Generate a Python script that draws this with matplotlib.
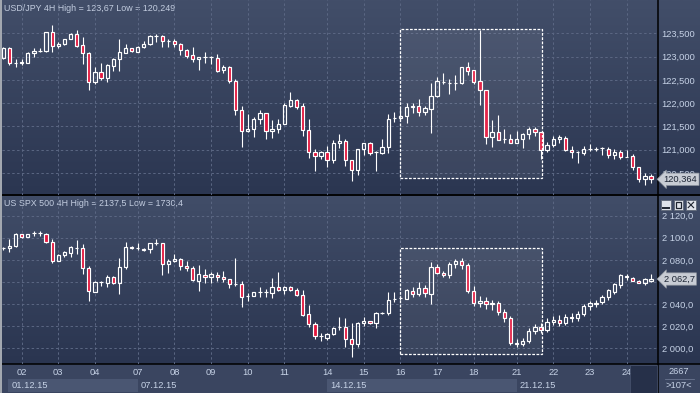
import numpy as np
import matplotlib
matplotlib.use("Agg")
import matplotlib.pyplot as plt
import matplotlib.transforms as mtransforms
from matplotlib.patches import Rectangle
from matplotlib.colors import to_rgb

plt.rcParams["font.family"] = ["Liberation Sans", "DejaVu Sans"]

# ── data: 4H candles, 01.12.15 – 24.12.15 ───────────────────────────────────
usd_open = [122.98, 123.18, 122.87, 122.87, 122.87, 123.07, 123.13, 123.13, 123.52, 123.23,
            123.27, 123.39, 123.48, 123.25, 123.07, 122.45, 122.67, 122.55, 122.80, 122.96,
            123.08, 123.18, 123.11, 123.20, 123.28, 123.44, 123.44, 123.34, 123.34, 123.28,
            123.14, 123.03, 122.94, 123.00, 123.00, 122.98, 122.71, 122.77, 122.48, 121.86,
            121.41, 121.45, 121.65, 121.78, 121.41, 121.45, 121.56, 121.95, 122.06, 121.93,
            121.43, 120.95, 120.86, 120.94, 120.78, 121.15, 121.19, 120.77, 120.57, 121.02,
            121.15, 120.94, 120.93, 121.06, 121.68, 121.68, 121.73, 121.91, 121.94, 121.80,
            121.88, 122.15, 122.46, 122.44, 122.44, 122.44, 122.77, 122.71, 122.47, 122.29,
            121.27, 121.37, 121.24, 121.24, 121.15, 121.23, 121.33, 121.45, 121.38, 121.00,
            121.11, 121.24, 121.26, 121.00, 120.95, 120.93, 121.02, 121.02, 121.03, 121.02,
            120.89, 120.95, 120.85, 120.86, 120.63, 120.37, 120.43]
usd_high = [123.20, 123.21, 122.96, 122.94, 123.09, 123.18, 123.19, 123.52, 123.67, 123.32,
            123.39, 123.50, 123.57, 123.43, 123.09, 122.78, 122.87, 122.85, 122.98, 123.38,
            123.28, 123.19, 123.23, 123.33, 123.46, 123.48, 123.46, 123.38, 123.39, 123.30,
            123.16, 123.20, 123.00, 123.09, 123.01, 123.05, 122.83, 122.79, 122.51, 121.93,
            121.76, 121.70, 121.86, 121.79, 121.63, 121.67, 122.00, 122.24, 122.08, 122.00,
            121.65, 121.02, 120.97, 121.09, 121.20, 121.34, 121.24, 120.77, 121.02, 121.15,
            121.17, 120.97, 121.22, 121.76, 121.80, 121.90, 122.01, 122.01, 122.10, 121.94,
            122.44, 122.57, 122.64, 122.52, 122.60, 122.77, 122.88, 122.71, 123.57, 122.29,
            121.63, 121.75, 121.45, 121.33, 121.40, 121.36, 121.49, 121.49, 121.38, 121.17,
            121.29, 121.31, 121.29, 121.07, 120.97, 121.08, 121.13, 121.05, 121.05, 121.05,
            121.02, 120.99, 120.99, 120.91, 120.63, 120.50, 120.48]
usd_low = [122.96, 122.82, 122.77, 122.82, 122.86, 123.00, 123.09, 123.11, 123.10, 123.19,
           123.25, 123.37, 123.21, 122.84, 122.28, 122.42, 122.49, 122.46, 122.70, 122.70,
           123.07, 123.09, 123.10, 123.18, 123.25, 123.32, 123.20, 123.21, 123.21, 123.04,
           122.98, 122.89, 122.71, 122.86, 122.84, 122.67, 122.64, 122.44, 121.74, 121.06,
           121.38, 121.27, 121.55, 121.23, 121.26, 121.36, 121.55, 121.92, 121.88, 121.29,
           120.83, 120.55, 120.79, 120.63, 120.71, 121.04, 120.65, 120.32, 120.46, 120.88,
           120.88, 120.55, 120.91, 120.93, 121.60, 121.63, 121.57, 121.79, 121.73, 121.74,
           121.36, 122.14, 122.41, 122.19, 122.28, 122.42, 122.60, 122.41, 121.96, 121.12,
           121.06, 121.20, 121.14, 121.15, 121.14, 121.04, 121.22, 121.29, 120.81, 120.95,
           121.06, 121.14, 120.97, 120.82, 120.71, 120.88, 120.97, 120.98, 120.88, 120.82,
           120.81, 120.81, 120.84, 120.57, 120.30, 120.25, 120.29]
usd_close = [123.18, 122.87, 122.87, 122.88, 123.07, 123.13, 123.13, 123.52, 123.23, 123.28,
             123.39, 123.49, 123.23, 123.07, 122.46, 122.67, 122.55, 122.82, 122.96, 123.09,
             123.18, 123.12, 123.20, 123.28, 123.44, 123.44, 123.34, 123.34, 123.28, 123.14,
             123.02, 122.94, 123.00, 123.00, 122.99, 122.70, 122.77, 122.48, 121.86, 121.41,
             121.45, 121.67, 121.78, 121.41, 121.45, 121.56, 121.96, 122.06, 121.92, 121.43,
             120.95, 120.86, 120.94, 120.78, 121.15, 121.19, 120.77, 120.57, 121.02, 121.15,
             120.93, 120.94, 121.06, 121.67, 121.69, 121.73, 121.91, 121.94, 121.80, 121.89,
             122.15, 122.47, 122.46, 122.44, 122.44, 122.77, 122.70, 122.46, 122.28, 121.27,
             121.37, 121.20, 121.24, 121.15, 121.24, 121.33, 121.45, 121.38, 121.00, 121.11,
             121.24, 121.27, 121.00, 120.95, 120.95, 121.02, 121.02, 121.02, 121.04, 120.89,
             120.95, 120.84, 120.85, 120.63, 120.37, 120.43, 120.364]

spx_open = [2090.5, 2091.0, 2092.8, 2103.3, 2100.9, 2103.9, 2103.9, 2103.3, 2095.8, 2079.2,
            2084.3, 2085.8, 2091.0, 2090.4, 2072.9, 2050.6, 2059.6, 2058.7, 2064.8, 2058.7,
            2073.8, 2091.3, 2090.4, 2089.8, 2089.8, 2094.9, 2094.9, 2076.2, 2078.9, 2080.4,
            2074.4, 2072.9, 2061.1, 2066.3, 2064.2, 2066.3, 2064.8, 2062.3, 2058.1, 2058.1,
            2047.6, 2047.6, 2051.2, 2050.6, 2049.7, 2055.1, 2052.7, 2055.1, 2052.7, 2048.2,
            2030.7, 2021.7, 2011.1, 2009.6, 2012.7, 2019.0, 2019.0, 2008.1, 2003.6, 2022.6,
            2024.7, 2022.6, 2032.2, 2031.6, 2044.6, 2045.2, 2044.6, 2052.1, 2049.1, 2054.2,
            2049.1, 2073.2, 2068.4, 2066.0, 2076.0, 2079.0, 2075.0, 2052.0, 2041.0, 2043.0,
            2040.0, 2041.0, 2033.0, 2027.0, 2005.0, 2004.0, 2007.0, 2016.0, 2019.0, 2017.0,
            2024.0, 2026.0, 2023.0, 2028.0, 2027.0, 2031.0, 2038.0, 2041.0, 2042.2, 2046.2,
            2051.2, 2057.3, 2065.7, 2063.9, 2061.2, 2059.4, 2061.0]
spx_high = [2092.0, 2098.5, 2104.5, 2103.3, 2103.3, 2106.3, 2106.0, 2104.5, 2098.5, 2085.2,
            2088.3, 2092.5, 2097.9, 2094.3, 2074.4, 2060.8, 2060.8, 2066.3, 2065.4, 2081.3,
            2096.4, 2092.5, 2095.5, 2090.4, 2095.5, 2098.5, 2095.5, 2080.4, 2084.9, 2081.3,
            2079.2, 2074.4, 2075.3, 2071.4, 2069.3, 2069.3, 2069.9, 2062.9, 2081.3, 2060.8,
            2049.7, 2051.2, 2055.1, 2053.3, 2063.2, 2069.3, 2056.3, 2056.3, 2054.2, 2052.7,
            2039.2, 2024.1, 2014.2, 2014.2, 2019.6, 2028.6, 2027.1, 2022.6, 2024.1, 2028.6,
            2025.0, 2033.1, 2033.1, 2050.6, 2050.9, 2047.0, 2053.3, 2055.1, 2060.2, 2057.2,
            2078.3, 2076.2, 2070.2, 2078.0, 2081.0, 2082.0, 2077.0, 2056.0, 2047.0, 2046.0,
            2044.0, 2043.0, 2036.0, 2029.0, 2008.0, 2009.0, 2018.0, 2022.0, 2023.0, 2027.0,
            2029.0, 2030.0, 2031.0, 2032.0, 2034.0, 2040.0, 2043.0, 2044.0, 2048.0, 2054.0,
            2059.0, 2067.0, 2067.0, 2064.5, 2062.0, 2064.0, 2067.0]
spx_low = [2089.0, 2086.7, 2091.3, 2099.4, 2100.3, 2101.5, 2101.5, 2094.9, 2076.8, 2079.2,
           2082.2, 2082.8, 2085.2, 2067.2, 2043.1, 2050.6, 2056.6, 2055.1, 2058.1, 2049.1,
           2071.7, 2089.8, 2088.9, 2087.9, 2085.8, 2093.1, 2066.3, 2067.8, 2078.3, 2070.8,
           2069.9, 2061.1, 2052.1, 2059.3, 2059.3, 2061.1, 2060.2, 2054.2, 2056.3, 2037.0,
           2043.1, 2047.6, 2046.7, 2046.1, 2045.2, 2052.1, 2048.8, 2052.1, 2047.6, 2029.2,
           2019.6, 2008.1, 2006.9, 2007.5, 2012.0, 2016.6, 2001.5, 1992.5, 2001.5, 2020.2,
           2021.9, 2018.7, 2030.7, 2030.1, 2042.2, 2043.7, 2044.6, 2046.7, 2047.3, 2046.1,
           2040.1, 2067.2, 2064.8, 2064.0, 2073.0, 2072.0, 2050.0, 2038.0, 2037.0, 2036.0,
           2035.0, 2030.0, 2024.0, 2003.0, 2001.0, 2002.0, 2005.0, 2013.0, 2014.0, 2015.0,
           2021.0, 2020.0, 2021.0, 2024.0, 2025.0, 2029.0, 2035.0, 2037.0, 2040.0, 2044.0,
           2049.0, 2055.0, 2062.2, 2060.5, 2059.0, 2057.5, 2060.0]
spx_close = [2091.0, 2092.8, 2103.3, 2100.9, 2103.0, 2103.9, 2103.9, 2095.8, 2079.2, 2084.3,
             2086.7, 2091.3, 2091.0, 2072.9, 2051.8, 2059.6, 2059.6, 2064.8, 2058.7, 2073.8,
             2091.9, 2090.4, 2090.4, 2089.2, 2094.9, 2094.9, 2076.2, 2078.9, 2080.7, 2074.4,
             2072.3, 2061.7, 2067.2, 2064.2, 2067.2, 2064.8, 2062.3, 2058.1, 2058.1, 2046.7,
             2047.6, 2051.2, 2051.2, 2050.6, 2055.1, 2052.7, 2055.1, 2052.7, 2048.2, 2030.1,
             2022.0, 2011.1, 2011.1, 2012.7, 2018.7, 2019.0, 2008.1, 2003.6, 2022.6, 2024.7,
             2022.6, 2031.6, 2032.2, 2043.7, 2044.6, 2045.2, 2052.7, 2049.1, 2054.2, 2049.7,
             2073.2, 2068.4, 2066.3, 2076.0, 2079.0, 2075.0, 2052.0, 2041.0, 2043.0, 2040.0,
             2041.0, 2033.0, 2027.0, 2005.0, 2004.0, 2007.0, 2016.0, 2019.0, 2017.0, 2024.0,
             2026.0, 2023.0, 2028.0, 2027.0, 2031.0, 2038.0, 2041.0, 2040.0, 2046.7, 2052.8,
             2057.9, 2066.3, 2064.3, 2060.9, 2059.4, 2062.4, 2062.7]

# candle index where each day starts, and the labels under it
day_pos = [3, 9, 15, 22, 28, 34, 40, 46, 53, 59, 65, 71, 77, 84, 90, 96, 102]
day_labels = ["02", "03", "04", "07", "08", "09", "10", "11", "14", "15",
              "16", "17", "18", "21", "22", "23", "24"]
week_pos = [0.8, 22, 53, 84]
week_labels = ["01.12.15", "07.12.15", "14.12.15", "21.12.15"]

usd_ticks = [120.5, 121.0, 121.5, 122.0, 122.5, 123.0, 123.5]
spx_ticks = [2000, 2020, 2040, 2060, 2080, 2100, 2120]

# selected range (candle index span and price span of the dashed boxes)
sel_x = (65, 88.1)
usd_sel_y = (120.39, 123.59)
spx_sel_y = (1994.6, 2090.5)

usd_title = "USD/JPY 4H High = 123,67 Low = 120,249"
spx_title = "US SPX 500 4H High = 2137,5 Low = 1730,4"

# ── style ──────────────────────────────────────────────────────────────────────
RED = "#e3163d"
GRID = "#5b6783"
LABEL = "#c6d2e6"
FS = 6.7

W, H = 700, 393
fig = plt.figure(figsize=(7, 3.93), dpi=100)
fig.patch.set_facecolor("#2b3651")


def rect(x0, y0, x1, y1):
    return [x0 / W, 1 - y1 / H, (x1 - x0) / W, (y1 - y0) / H]


bg = fig.add_axes([0, 0, 1, 1])
bg.axis("off")


def gradient(x0, y0, x1, y1, c_top, c_bot):
    t = np.linspace(0, 1, 128)[:, None, None]
    img = np.array(to_rgb(c_top)) * (1 - t) + np.array(to_rgb(c_bot)) * t
    bg.imshow(img, extent=(x0, x1, y1, y0), aspect="auto",
              interpolation="bilinear", zorder=0)


gradient(0, 0, W, 195, "#424e69", "#2b3651")
gradient(0, 196, W, 364, "#414d68", "#2a3550")
bg.add_patch(Rectangle((0, 364), W, H - 364, fc="#3a4560", ec="none", zorder=1))
bg.set_xlim(0, W)
bg.set_ylim(H, 0)

# frame lines
bg.plot([657.5, 657.5], [0, H], color="black", lw=1.1, zorder=3)
bg.plot([0, W], [195.3, 195.3], color="black", lw=1.3, zorder=3)
bg.plot([0, W], [364.3, 364.3], color="black", lw=1.1, zorder=3)
bg.add_patch(Rectangle((0, 0), 2, H, fc="#a3a8b0", ec="none", zorder=4))

# chart panels
XL = (-0.213, 107.07)
ax1 = fig.add_axes(rect(2, 0, 657.5, 195))
ax2 = fig.add_axes(rect(2, 196, 657.5, 364))
ax1.set_ylim(120.026, 124.218)
ax2.set_ylim(1985.8, 2137.8)


def draw_candles(ax, o, h, l, c):
    for j, (oo, hh, ll, cc) in enumerate(zip(o, h, l, c)):
        top, bot = max(oo, cc), min(oo, cc)
        ax.plot([j, j], [top, hh], color="white", lw=0.8, solid_capstyle="butt", zorder=3)
        ax.plot([j, j], [ll, bot], color="white", lw=0.8, solid_capstyle="butt", zorder=3)
        face = RED if cc < oo else "none"
        ax.add_patch(Rectangle((j - 0.27, bot), 0.54, top - bot, fc=face,
                               ec="white", lw=0.85, zorder=4))


def usd_fmt(v):
    return f"{v:.3f}".replace(".", ",")


def spx_fmt(v):
    # the 2 060,0 label sits under the last-price tag in the original
    if v == 2060:
        return ""
    return f"{v:,.1f}".replace(",", " ").replace(".", ",")


for ax, ticks, fmt in [(ax1, usd_ticks, usd_fmt), (ax2, spx_ticks, spx_fmt)]:
    ax.patch.set_alpha(0)
    ax.set_xlim(XL)
    for s in ax.spines.values():
        s.set_visible(False)
    ax.yaxis.tick_right()
    ax.set_yticks(ticks)
    ax.set_yticklabels([fmt(v) for v in ticks])
    ax.tick_params(axis="y", length=0, pad=3, labelsize=FS, labelcolor=LABEL)
    ax.set_xticks(day_pos)
    ax.grid(True, color=GRID, lw=0.7, ls=(0, (2.5, 2.5)), zorder=1)
    ax.set_axisbelow(True)

ax1.tick_params(axis="x", length=0, labelbottom=False)
ax2.set_xticklabels(day_labels)
ax2.tick_params(axis="x", length=0, pad=3.2, labelsize=FS, labelcolor=LABEL)

draw_candles(ax1, usd_open, usd_high, usd_low, usd_close)
draw_candles(ax2, spx_open, spx_high, spx_low, spx_close)

# dashed selection boxes
for ax, (y0, y1) in [(ax1, usd_sel_y), (ax2, spx_sel_y)]:
    ax.add_patch(Rectangle((sel_x[0], y0), sel_x[1] - sel_x[0], y1 - y0,
                           fc=(1, 1, 1, 0.07), ec="white", lw=0.9,
                           ls=(0, (2.2, 1.2)), zorder=5))

# last price tags
for ax, val, txt in [(ax1, usd_close[-1], "120,364"), (ax2, spx_close[-1], "2 062,7")]:
    ax.annotate(txt, xy=(1.0, val), xycoords=("axes fraction", "data"),
                xytext=(4.5, 0), textcoords="offset points", ha="left", va="center",
                fontsize=FS, color="#1c2434", annotation_clip=False, zorder=12,
                bbox=dict(boxstyle="larrow,pad=0.18", fc="#c8ccd4", ec="#8d939d", lw=0.5))

# titles
bg.text(4, 8.5, usd_title, fontsize=6.4, color="#c3cde0", va="center", ha="left", zorder=6)
bg.text(4, 203.5, spx_title, fontsize=6.4, color="#c3cde0", va="center", ha="left", zorder=6)

# week row in the date bar
blend = mtransforms.blended_transform_factory(ax2.transData, bg.transData)
for k, (wp, wl) in enumerate(zip(week_pos, week_labels)):
    if k % 2 == 0:
        nxt = week_pos[k + 1]
        bg.add_patch(Rectangle((wp, 378.8), nxt - wp, 13.5, transform=blend,
                               fc="#4a5672", ec="none", zorder=2))
    bg.text(wp + 0.55, 385, wl, transform=blend, fontsize=FS, color=LABEL,
            va="center", ha="left", zorder=6)

# dark block at the right end of the date bar (covers part of "24")
ax2.add_patch(Rectangle((629.5, 365), 27.5, 27.5, transform=bg.transData,
                        fc="#263049", ec="#4a5570", lw=0.5, clip_on=False, zorder=10))

# bottom-right counters
bg.text(679, 372, "2667", fontsize=FS, color=LABEL, ha="center", va="center", zorder=6)
bg.plot([665, 694], [378.5, 378.5], color="#6a7590", lw=0.6, zorder=6)
bg.text(679, 385.5, ">107<", fontsize=FS, color=LABEL, ha="center", va="center", zorder=6)

# window buttons on the lower scale
for bx in [661, 673.5, 686]:
    bg.add_patch(Rectangle((bx, 200), 9.5, 9.5, fc="#dfe3ea", ec="#5d6676", lw=0.6, zorder=6))
bg.plot([663, 668.5], [207.5, 207.5], color="#1e2430", lw=1.4, zorder=7)
bg.add_patch(Rectangle((675.5, 202), 5.5, 5.5, fc="none", ec="#1e2430", lw=0.9, zorder=7))
bg.plot([688.2, 693.6], [202.2, 207.6], color="#1e2430", lw=0.8, zorder=7)
bg.plot([688.2, 693.6], [207.6, 202.2], color="#1e2430", lw=0.8, zorder=7)

fig.savefig("out.png", dpi=100, facecolor=fig.get_facecolor())
